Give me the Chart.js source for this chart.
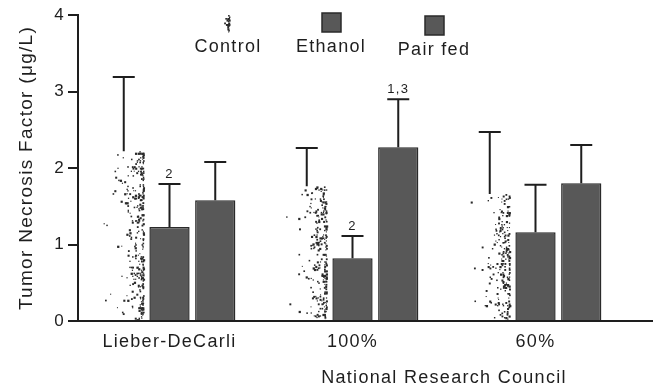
<!DOCTYPE html>
<html>
<head>
<meta charset="utf-8">
<script src="https://cdn.jsdelivr.net/npm/chart.js@4"></script>
<style>
  html, body { margin: 0; padding: 0; background: #fff; }
</style>
</head>
<body>
<canvas id="tnf" width="658" height="389"></canvas>
<script>
// TNF levels (ug/L), mean and upper error per diet group
const groups = ['Lieber-DeCarli', '100%', '60%']
const controlMean = [2.22, 1.76, 1.66]
const controlErr = [0.97, 0.50, 0.81]
const ethanolMean = [1.23, 0.82, 1.16]
const ethanolErr = [0.56, 0.29, 0.62]
const pairFedMean = [1.58, 2.27, 1.80]
const pairFedErr = [0.50, 0.63, 0.50]
const ethanolMarks = ['2', '2', '']
const pairFedMarks = ['', '1,3', '']
const yTicks = [0, 1, 2, 3, 4]

const ink = '#1e1e1e'
const barGray = '#585858'
const face = "'Liberation Sans', Arial, sans-serif"

function noise(a, b) {
  const s = Math.sin(a * 127.1 + b * 311.7) * 43758.5453
  return s - Math.floor(s)
}

// faded, clumpy stipple used for the control columns
function speckle(ctx, left, top, right, bottom, boost) {
  const w = right - left
  ctx.fillStyle = '#2a2a2a'
  for (let y = top; y < bottom; y += 1.5) {
    for (let x = left; x < right; x += 1.5) {
      const t = (x - left) / w
      const clump = noise(Math.floor(x / 4), Math.floor(y / 6))
      const edge = right - x < 2.5 ? 0.5 : 0
      const d = Math.max(edge, (0.008 + 0.38 * Math.pow(t, 3.5)) * (0.3 + 1.4 * clump)) * boost
      const h = noise(x, y)
      if (h < d) {
        const s = 1 + noise(y, x) * 1.3
        ctx.fillRect(x + noise(x + 7, y) - 0.5, y, s, s)
      }
    }
  }
}

const spacing = {
  id: 'spacing',
  beforeUpdate(chart) { chart.ctx.letterSpacing = '1.3px' },
  beforeDraw(chart) { chart.ctx.letterSpacing = '1.3px' }
}

const stipple = {
  id: 'stipple',
  afterDatasetsDraw(chart) {
    const ctx = chart.ctx
    ctx.save()
    chart.getDatasetMeta(0).data.forEach((bar) => {
      speckle(ctx, bar.x - bar.width / 2, bar.y, bar.x + bar.width / 2, bar.base, 1)
    })
    ctx.restore()
  }
}

const errorBars = {
  id: 'errorBars',
  afterDatasetsDraw(chart) {
    const ctx = chart.ctx
    const y = chart.scales.y
    ctx.save()
    ctx.strokeStyle = ink
    ctx.lineWidth = 2
    ctx.fillStyle = ink
    ctx.font = '13px ' + face
    ctx.textAlign = 'center'
    ctx.textBaseline = 'bottom'
    chart.data.datasets.forEach((ds, i) => {
      chart.getDatasetMeta(i).data.forEach((bar, j) => {
        const top = y.getPixelForValue(ds.data[j] + ds.err[j])
        ctx.beginPath()
        ctx.moveTo(bar.x, bar.y)
        ctx.lineTo(bar.x, top)
        ctx.moveTo(bar.x - 11, top)
        ctx.lineTo(bar.x + 11, top)
        ctx.stroke()
        if (ds.marks && ds.marks[j]) ctx.fillText(ds.marks[j], bar.x, top - 3)
      })
    })
    ctx.restore()
  }
}

const keyRow = {
  id: 'keyRow',
  afterDraw(chart) {
    const ctx = chart.ctx
    const spots = [228, 331, 434]
    ctx.save()
    ctx.font = '18px ' + face
    ctx.textAlign = 'center'
    ctx.textBaseline = 'middle'
    chart.data.datasets.forEach((ds, i) => {
      const cx = spots[i]
      const top = i === 2 ? 16 : 13
      if (i === 0) {
        speckle(ctx, cx - 10, top + 2, cx + 2, top + 19, 2.5)
      } else {
        ctx.fillStyle = barGray
        ctx.fillRect(cx - 9, top, 19, 19)
        ctx.strokeStyle = '#2a2a2a'
        ctx.lineWidth = 1.5
        ctx.strokeRect(cx - 9, top, 19, 19)
      }
      ctx.fillStyle = ink
      ctx.fillText(ds.label, cx, i === 2 ? 50 : 47)
    })
    ctx.restore()
  }
}

const extras = {
  id: 'extras',
  afterDraw(chart) {
    const ctx = chart.ctx
    const x = chart.scales.x
    const area = chart.chartArea
    ctx.save()
    // baseline, drawn by hand so it can run on past the last group
    ctx.strokeStyle = ink
    ctx.lineWidth = 2
    ctx.beginPath()
    ctx.moveTo(area.left - 1, Math.round(x.top))
    ctx.lineTo(653, Math.round(x.top))
    ctx.stroke()
    // NRC diets share one caption
    ctx.fillStyle = ink
    ctx.font = '18px ' + face
    ctx.textAlign = 'center'
    ctx.textBaseline = 'middle'
    const mid = (x.getPixelForValue(1) + x.getPixelForValue(2)) / 2
    ctx.fillText('National Research Council', mid, 378)
    ctx.restore()
  }
}

new Chart(document.getElementById('tnf'), {
  type: 'bar',
  data: {
    labels: groups,
    datasets: [{
      label: 'Control',
      data: controlMean,
      err: controlErr,
      backgroundColor: '#ffffff',
      borderWidth: 0
    }, {
      label: 'Ethanol',
      data: ethanolMean,
      err: ethanolErr,
      marks: ethanolMarks,
      backgroundColor: barGray,
      borderColor: '#2a2a2a',
      borderWidth: 1.5
    }, {
      label: 'Pair fed',
      data: pairFedMean,
      err: pairFedErr,
      marks: pairFedMarks,
      backgroundColor: barGray,
      borderColor: '#2a2a2a',
      borderWidth: 1.5
    }]
  },
  options: {
    responsive: false,
    animation: false,
    categoryPercentage: 0.75,
    barPercentage: 0.88,
    layout: { padding: { top: 15, right: 31, left: 0, bottom: 0 } },
    plugins: {
      legend: { display: false },
      tooltip: { enabled: false }
    },
    scales: {
      x: {
        grid: { display: false, drawTicks: false },
        border: { display: false },
        ticks: { color: ink, padding: 10, font: { family: face, size: 18 } },
        afterFit(scale) { scale.height = 68 }
      },
      y: {
        min: 0,
        max: 4,
        afterBuildTicks(scale) { scale.ticks = yTicks.map(v => ({ value: v })) },
        grid: { drawOnChartArea: false, drawTicks: true, tickLength: 10, color: ink, lineWidth: 2 },
        border: { display: true, color: ink, width: 2 },
        ticks: { color: ink, padding: 3, font: { family: face, size: 17 } },
        title: {
          display: true,
          text: 'Tumor Necrosis Factor (\u03bcg/L)',
          color: ink,
          padding: { top: 15, bottom: 0 },
          font: { family: face, size: 19 }
        },
        afterFit(scale) { scale.width = 78 }
      }
    }
  },
  plugins: [spacing, stipple, errorBars, keyRow, extras]
})
</script>
</body>
</html>
